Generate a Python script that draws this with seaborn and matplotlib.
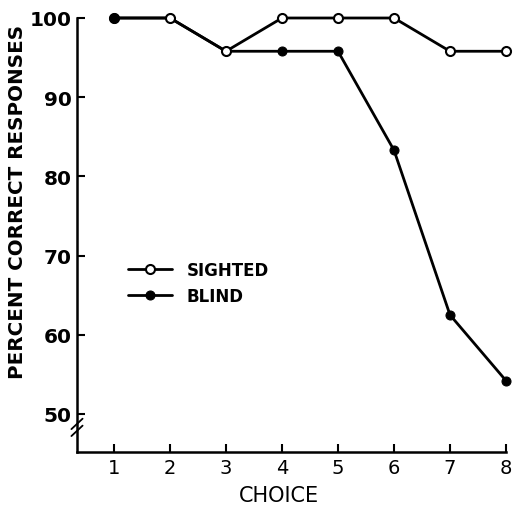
import matplotlib
matplotlib.use("Agg")
import matplotlib.pyplot as plt
import seaborn as sns
import pandas as pd

choices = [1, 2, 3, 4, 5, 6, 7, 8]
sighted = [100, 100, 95.8, 100, 100, 100, 95.8, 95.8]
blind = [100, 100, 95.8, 95.8, 95.8, 83.3, 62.5, 54.2]
yticks = [50, 60, 70, 80, 90, 100]

sns.set_theme(style="white")
plt.rcParams['font.family'] = ['DejaVu Sans']
plt.rcParams['text.color'] = 'black'
plt.rcParams['axes.labelcolor'] = 'black'

fig = plt.figure(figsize=(5.14, 5.10), dpi=100)
ax = fig.add_axes([77/514, 1-453/510, (506-77)/514, (453-19)/510])

df = pd.DataFrame({"choice": choices * 2,
                   "pct": sighted + blind,
                   "group": ["SIGHTED"] * 8 + ["BLIND"] * 8})

sns.lineplot(data=df[df.group == "SIGHTED"], x="choice", y="pct", ax=ax,
             color="black", lw=2.0, marker="o", markersize=6.5,
             markerfacecolor="white", markeredgecolor="black", markeredgewidth=1.5,
             clip_on=False, label="SIGHTED", zorder=3)
sns.lineplot(data=df[df.group == "BLIND"], x="choice", y="pct", ax=ax,
             color="black", lw=2.0, marker="o", markersize=6.5,
             markerfacecolor="black", markeredgecolor="black",
             clip_on=False, label="BLIND", zorder=2)
# first blind point is drawn on top in the original
first = df[(df.group == "BLIND") & (df.choice == choices[0])]
ax.plot(first.choice, first.pct, "o", color="black", markersize=6.5,
        clip_on=False, zorder=4)

ax.set_xlim(1 - 37/56, 8)
ax.set_ylim(50 - 38/7.9, 100)
ax.set_xticks(choices)
ax.set_yticks(yticks)
ax.set_xticklabels([str(c) for c in choices], fontsize=14)
ax.set_yticklabels([str(v) for v in yticks], fontsize=14.5, fontweight="bold")
ax.tick_params(axis="both", direction="in", length=6, width=1.5, colors="black",
               labelcolor="black", bottom=True, left=True, pad=4)
ax.tick_params(axis="y", pad=4)
for s in ["top", "right"]:
    ax.spines[s].set_visible(False)
for s in ["left", "bottom"]:
    ax.spines[s].set_color("black")
    ax.spines[s].set_linewidth(1.8)

ax.set_xlabel("CHOICE", fontsize=15)
ax.xaxis.set_label_coords(0.47, -0.075)
ax.set_ylabel("PERCENT CORRECT RESPONSES", fontsize=14.3, fontweight="bold")
ax.yaxis.set_label_coords(-0.117, 0.578)

# axis break marks
tr = ax.transAxes
yb = (48.3 - (50 - 38/7.9)) / (100 - (50 - 38/7.9))
for dy in (-0.008, 0.008):
    ax.plot([-0.013, 0.013], [yb - 0.012 + dy, yb + 0.012 + dy], color="black",
            lw=1.3, transform=tr, clip_on=False)

leg = ax.legend(loc="upper left", bbox_to_anchor=(0.085, 0.475), frameon=False,
                fontsize=12, handlelength=2.6, handletextpad=0.9, labelspacing=0.5)
for t in leg.get_texts():
    t.set_fontweight("bold")
    t.set_color("black")

fig.savefig("out.png", dpi=100, facecolor="white")
